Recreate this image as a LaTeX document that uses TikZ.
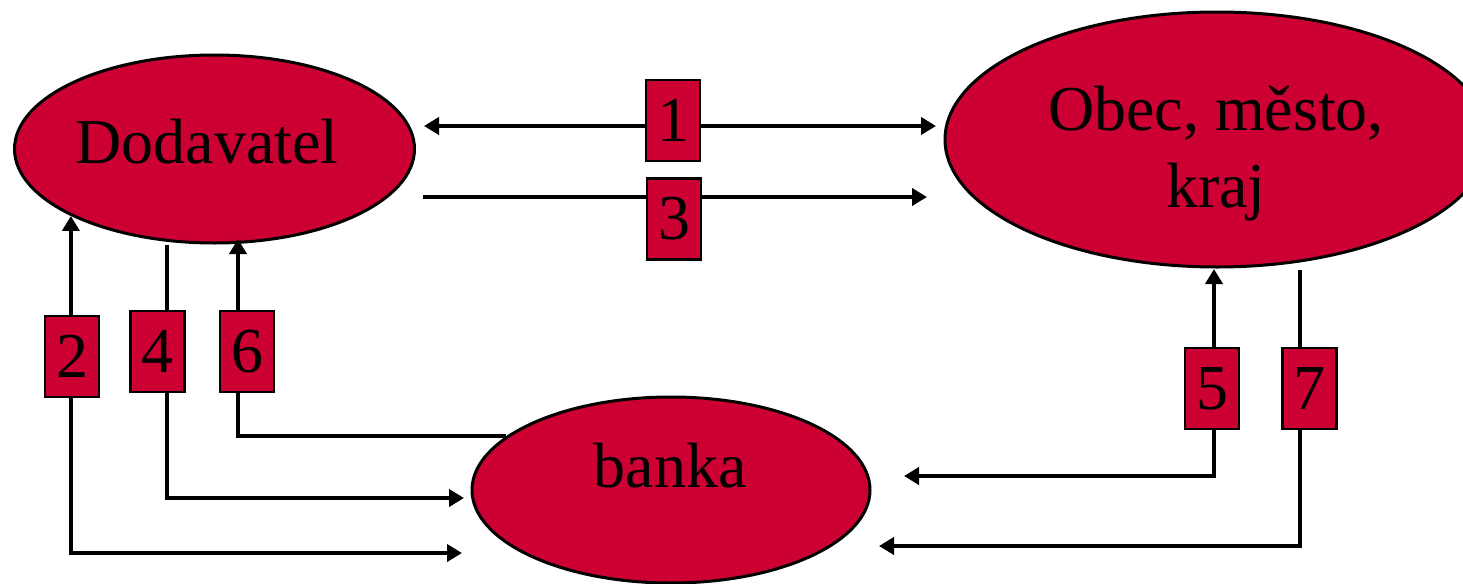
\documentclass[tikz,border=0pt]{standalone}
\usepackage{fontspec}
\setmainfont{Liberation Serif}
\usetikzlibrary{shapes.geometric}
\usetikzlibrary{arrows.meta}
\definecolor{flowred}{HTML}{CC0033}
\tikzset{every node/.style={align=center},
         party/.style={ % the three parties
           ellipse, draw, line width=1.5pt,
           fill=flowred, inner sep=0pt},
         partyname/.style={anchor=base,
           font=\fontsize{32}{38.5}\selectfont},
         numbox/.style={ % numbered step on a flow
           rectangle, draw, line width=1.2pt, fill=flowred,
           minimum width=27pt, minimum height=40.5pt, inner sep=0pt,
           font=\fontsize{32}{38.5}\selectfont},
         flow/.style={line width=2pt,
           >={Triangle[length=7.5pt,width=8.5pt]}}}

\begin{document}
\begin{tikzpicture}[x=0.5pt,y=-0.5pt]
  \useasboundingbox (0,0) rectangle (1463,584);

  \node [party, minimum width=200pt, minimum height=94pt] (dod) at (214.5,149) {};
  \node [party, minimum width=272pt, minimum height=127.5pt] (obec) at (1217,139.5) {};
  \node [party, minimum width=199pt, minimum height=93pt] (banka) at (671,490) {};

  % base sits on the last line of a node
  \node [partyname] (doddname) at (207,163) {Dodavatel};
  \node [partyname] (obecname) at (1216,207) {Obec, město,\\kraj};
  \node [partyname] (bankaname) at (670,487) {banka};

  % loose ends of the flows
  \coordinate (d1) at (424,126);
  \coordinate (o1) at (936,126);
  \coordinate (d3) at (423,197);
  \coordinate (o3) at (927,197);
  \coordinate (k2) at (462,553);
  \coordinate (s4) at (167,245);
  \coordinate (k4) at (464,498);
  \coordinate (t6) at (238,239);
  \coordinate (t5) at (1214,269);
  \coordinate (k5) at (904,476);
  \coordinate (s7) at (1300,270);
  \coordinate (k7) at (879,546);

  \draw [flow, <->] (d1) -- (o1);
  \draw [flow, ->] (d3) -- (o3);
  \draw [flow, <->] (dod.205) |- (k2);
  \draw [flow, ->] (s4) |- (k4);
  \draw [flow, ->] (banka.162) -| (t6);
  \draw [flow, <->] (t5) |- (k5);
  \draw [flow, ->] (s7) |- (k7);

  \node [numbox] (n1) at (673,120.5) {1};
  \node [numbox] (n2) at (72,356.5) {2};
  \node [numbox] (n3) at (674,219) {3};
  \node [numbox] (n4) at (157.5,351.5) {4};
  \node [numbox] (n5) at (1212,388.5) {5};
  \node [numbox] (n6) at (247,351.5) {6};
  \node [numbox] (n7) at (1309.5,388.5) {7};
\end{tikzpicture}
\end{document}
